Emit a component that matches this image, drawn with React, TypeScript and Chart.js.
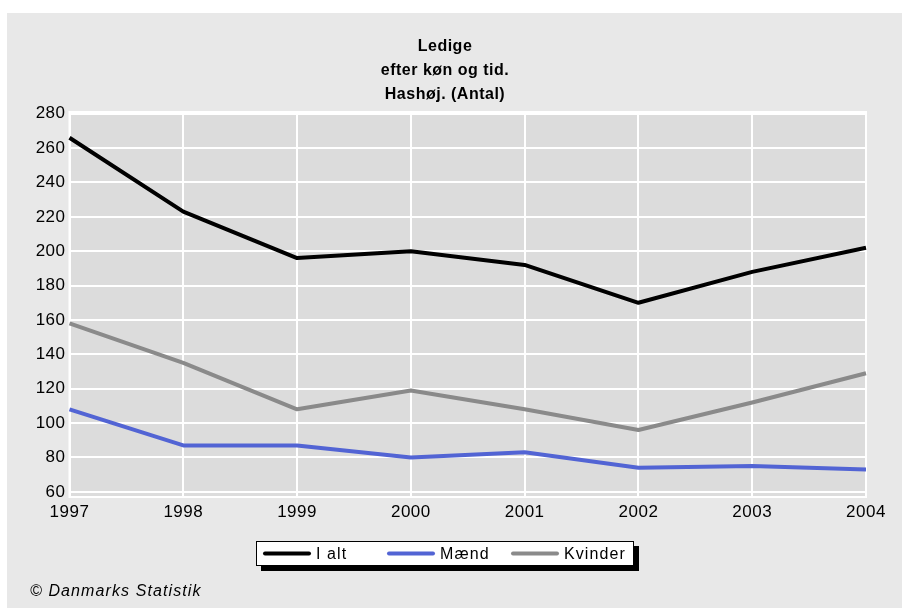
import React, { useEffect, useRef } from "react";
import { Chart, registerables } from "chart.js";

Chart.register(...registerables);

// ---- data ----
const years = ["1997", "1998", "1999", "2000", "2001", "2002", "2003", "2004"];
const iAlt = [266, 223, 196, 200, 192, 170, 188, 202];
const maend = [108, 87, 87, 80, 83, 74, 75, 73];
const kvinder = [158, 135, 108, 119, 108, 96, 112, 129];
const seriesNames = ["I alt", "Mænd", "Kvinder"];
const yTickValues = [60, 80, 100, 120, 140, 160, 180, 200, 220, 240, 260, 280];
const titleLines = ["Ledige", "efter køn og tid.", "Hashøj. (Antal)"];
const creditText = "© Danmarks Statistik";

const FONT = '"Liberation Sans", Arial, sans-serif';

const decorPlugin = {
  id: "decor",
  beforeDraw(chart: any) {
    const { ctx, chartArea: a } = chart;
    (ctx as any).letterSpacing = "0.5px";
    ctx.save();
    ctx.fillStyle = "#dcdcdc";
    ctx.fillRect(a.left, a.top, a.right - a.left, a.bottom - a.top);
    ctx.restore();
  },
  beforeDatasetsDraw(chart: any) {
    const { ctx, chartArea: a } = chart;
    ctx.save();
    ctx.strokeStyle = "#ffffff";
    ctx.lineWidth = 2;
    ctx.strokeRect(a.left, a.top, a.right - a.left, a.bottom - a.top);
    ctx.restore();
  },
  afterDraw(chart: any) {
    const { ctx, chartArea: a } = chart;
    const tb = chart.titleBlock;
    const cx = tb ? (tb.left + tb.right) / 2 : chart.width / 2;
    const slot = 124;
    const n = chart.data.datasets.length;
    const w = 6 + slot * n;
    const h = 25;
    const left = Math.round(cx - w / 2);
    const top = Math.round(a.bottom + 44);
    ctx.save();
    (ctx as any).letterSpacing = "1.1px";
    // shadow
    ctx.fillStyle = "#000000";
    ctx.fillRect(left + 5, top + 5, w, h);
    // box
    ctx.fillStyle = "#ffffff";
    ctx.fillRect(left, top, w, h);
    ctx.strokeStyle = "#000000";
    ctx.lineWidth = 1;
    ctx.strokeRect(left + 0.5, top + 0.5, w - 1, h - 1);
    // items
    chart.data.datasets.forEach((ds: any, i: number) => {
      const x = left + 7 + i * slot;
      const y = top + h / 2;
      ctx.strokeStyle = ds.borderColor;
      ctx.lineWidth = 4;
      ctx.lineCap = "round";
      ctx.beginPath();
      ctx.moveTo(x + 2, y);
      ctx.lineTo(x + 46, y);
      ctx.stroke();
      ctx.fillStyle = "#000000";
      ctx.font = `16px ${FONT}`;
      ctx.textBaseline = "middle";
      ctx.textAlign = "left";
      ctx.fillText(ds.label, x + 53, y + 1);
    });
    // credit
    ctx.font = `italic 16px ${FONT}`;
    ctx.fillStyle = "#000000";
    ctx.textBaseline = "middle";
    ctx.textAlign = "left";
    ctx.fillText(creditText, 23, a.bottom + 95);
    ctx.restore();
  },
};

export default function App() {
  const ref = useRef<HTMLCanvasElement | null>(null);

  useEffect(() => {
    if (!ref.current) return;
    const tickFont = { family: FONT, size: 17 };
    const chart = new Chart(ref.current, {
      type: "line",
      data: {
        labels: years,
        datasets: [
          { label: seriesNames[0], data: iAlt, borderColor: "#000000", backgroundColor: "#000000" },
          { label: seriesNames[1], data: maend, borderColor: "#5264d4", backgroundColor: "#5264d4" },
          { label: seriesNames[2], data: kvinder, borderColor: "#8a8a8a", backgroundColor: "#8a8a8a" },
        ].map((d) => ({
          ...d,
          borderWidth: 4,
          pointRadius: 0,
          pointHoverRadius: 0,
          tension: 0,
          fill: false,
          borderJoinStyle: "round" as const,
        })),
      },
      options: {
        responsive: false,
        animation: false,
        events: [],
        layout: { padding: { left: 17, right: 36, top: 20, bottom: 87 } },
        plugins: {
          legend: { display: false },
          tooltip: { enabled: false },
          title: {
            display: true,
            text: titleLines,
            color: "#000000",
            font: { family: FONT, size: 16, weight: "bold", lineHeight: 1.5 },
            padding: { top: 2, bottom: 5 },
          },
        },
        scales: {
          x: {
            type: "category",
            offset: false,
            grid: { color: "#ffffff", lineWidth: 2, drawTicks: false },
            border: { display: false },
            ticks: { font: tickFont, color: "#000000", padding: 5, maxRotation: 0, autoSkip: false },
            afterFit(s: any) {
              s.height = 24;
            },
          },
          y: {
            min: 57,
            max: 281,
            grid: { color: "#ffffff", lineWidth: 2, drawTicks: false },
            border: { display: false },
            ticks: { font: tickFont, color: "#000000", padding: 4 },
            afterBuildTicks(s: any) {
              s.ticks = yTickValues.map((v) => ({ value: v }));
            },
            afterFit(s: any) {
              s.width = 45.5;
            },
          },
        },
      },
      plugins: [decorPlugin],
    } as any);
    return () => chart.destroy();
  }, []);

  return (
    <div
      style={{
        position: "absolute",
        left: 0,
        top: 0,
        width: 902,
        height: 608,
        background: "#ffffff",
        overflow: "hidden",
      }}
    >
      <canvas
        ref={ref}
        width={895}
        height={595}
        style={{ position: "absolute", left: 7, top: 13, width: 895, height: 595, background: "#e8e8e8" }}
      />
    </div>
  );
}
